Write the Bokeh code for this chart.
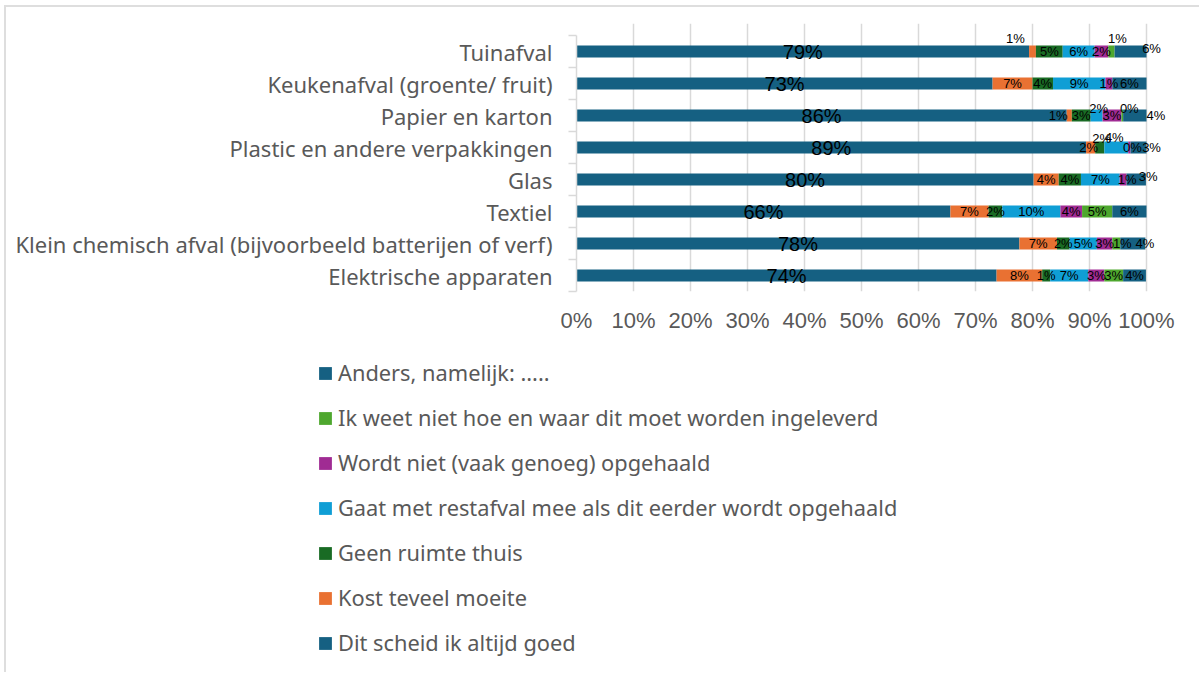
import numpy as np
from bokeh.plotting import figure
from bokeh.models import (Range1d, FixedTicker, ColumnDataSource, LabelSet,
                          Legend, LegendItem)
from bokeh.core.properties import value
from bokeh.embed import file_html
from bokeh.resources import INLINE

# ---------------- data ----------------
categories = [
    "Tuinafval",
    "Keukenafval (groente/ fruit)",
    "Papier en karton",
    "Plastic en andere verpakkingen",
    "Glas",
    "Textiel",
    "Klein chemisch afval (bijvoorbeeld batterijen of verf)",
    "Elektrische apparaten",
]
series_names = [
    "Dit scheid ik altijd goed",
    "Kost teveel moeite",
    "Geen ruimte thuis",
    "Gaat met restafval mee als dit eerder wordt opgehaald",
    "Wordt niet (vaak genoeg) opgehaald",
    "Ik weet niet hoe en waar dit moet worden ingeleverd",
    "Anders, namelijk: .....",
]
altijd_goed    = [79.4, 73.0, 86.0, 89.4, 80.2, 65.6, 77.7, 73.7]
kost_moeite    = [1.2, 7.0, 0.9, 1.6, 4.4, 6.7, 6.6, 8.0]
geen_ruimte    = [4.7, 3.6, 3.3, 1.6, 3.9, 2.4, 2.2, 1.4]
restafval      = [5.6, 9.2, 2.1, 4.2, 6.8, 10.2, 4.8, 6.7]
niet_opgehaald = [2.4, 1.2, 3.3, 0.4, 1.2, 3.8, 2.7, 2.8]
weet_niet      = [1.1, 0.0, 0.3, 0.0, 0.0, 5.3, 1.4, 3.3]
anders         = [5.6, 6.0, 4.1, 2.8, 3.4, 6.0, 4.4, 4.0]
x_tick_values  = [0, 10, 20, 30, 40, 50, 60, 70, 80, 90, 100]
x_tick_labels  = ["0%", "10%", "20%", "30%", "40%", "50%", "60%", "70%", "80%", "90%", "100%"]

series_values = [altijd_goed, kost_moeite, geen_ruimte, restafval,
                 niet_opgehaald, weet_niet, anders]

# ---------------- style ----------------
colors = ["#156082", "#E97132", "#196B24", "#0F9ED5", "#A02B93", "#4EA72E", "#156082"]
GRAY_TEXT = "#595959"
GRID = "#d9d9d9"
UI_FONT = "Noto Sans"
LBL_FONT = "Liberation Sans"

# manual label nudges (pixels, dy positive = up) keyed by (row, series)
label_nudges = {
    (0, 1): (-17, 13), (0, 5): (6, 13), (0, 6): (21, 3),
    (2, 1): (-11, 0), (2, 3): (2, 7), (2, 5): (7, 7), (2, 6): (21, 0),
    (3, 1): (-2, 0), (3, 2): (2, 9), (3, 3): (-2, 10), (3, 4): (3, 0), (3, 6): (13, 0),
    (4, 4): (4, 0), (4, 6): (12, 3),
    (6, 5): (6, 0), (6, 6): (12, 0),
}

n = len(categories)
ycent = [n - i - 0.5 for i in range(n)]

W = 1195
ROW_PX = 32.0
PX_PER_PCT = 5.7
FRAME_L = 570           # canvas x of 0 %
FRAME_W = 600           # a little room right of 100 % for labels
TOP_PAD = 12            # room above the first bar for lifted labels
FRAME_T = 28 - TOP_PAD
FRAME_H = int(n * ROW_PX) + TOP_PAD
H1 = 333

p = figure(width=W, height=H1, output_backend="svg", toolbar_location=None,
           x_range=Range1d(0, FRAME_W / PX_PER_PCT),
           y_range=Range1d(0, n + TOP_PAD / ROW_PX),
           min_border_left=FRAME_L, min_border_top=FRAME_T,
           min_border_right=W - FRAME_L - FRAME_W,
           min_border_bottom=H1 - FRAME_T - FRAME_H)
p.outline_line_color = None
p.background_fill_color = "white"
p.border_fill_color = "white"
p.margin = (5, 0, 0, 4)
p.styles = {"border-top": "2px solid #dedede", "border-left": "2px solid #dedede"}

# stacked bars
vals = np.array(series_values, dtype=float)
lefts = np.vstack([np.zeros(n), np.cumsum(vals, axis=0)[:-1]])
renderers = []
for k, name in enumerate(series_names):
    src = ColumnDataSource(dict(y=ycent, left=lefts[k], right=lefts[k] + vals[k]))
    r = p.hbar(y="y", left="left", right="right", height=12 / ROW_PX, source=src,
               fill_color=colors[k], line_color=None)
    renderers.append(r)

# data labels
big = dict(x=[], y=[], t=[], dx=[], dy=[])
small = dict(x=[], y=[], t=[], dx=[], dy=[])
for k in range(len(series_names)):
    for i in range(n):
        v = vals[k][i]
        if v <= 0:
            continue
        d = big if k == 0 else small
        dx, dy = label_nudges.get((i, k), (0, 0))
        d["x"].append(lefts[k][i] + v / 2)
        d["y"].append(ycent[i])
        d["t"].append(f"{round(v):d}%")
        d["dx"].append(dx)
        d["dy"].append(dy)

p.add_layout(LabelSet(x="x", y="y", text="t", x_offset="dx", y_offset="dy",
                      source=ColumnDataSource(big), text_align="center",
                      text_baseline="middle", text_font=value(LBL_FONT),
                      text_font_size="20px", text_color="black"))
p.add_layout(LabelSet(x="x", y="y", text="t", x_offset="dx", y_offset="dy",
                      source=ColumnDataSource(small), text_align="center",
                      text_baseline="middle", text_font=value(LBL_FONT),
                      text_font_size="13px", text_color="black"))

# x axis
p.xaxis.ticker = FixedTicker(ticks=x_tick_values)
p.xaxis.major_label_overrides = dict(zip(x_tick_values, x_tick_labels))
p.xaxis.axis_line_color = None
p.xaxis.major_tick_line_color = None
p.xaxis.major_tick_out = 0
p.xaxis.major_tick_in = 0
p.xaxis.minor_tick_line_color = None
p.xaxis.major_label_standoff = 16
p.xaxis.major_label_text_font = LBL_FONT
p.xaxis.major_label_text_font_size = "22px"
p.xaxis.major_label_text_color = GRAY_TEXT

# y axis: labels at row centres, tick marks at row boundaries
p.yaxis.ticker = FixedTicker(ticks=ycent, minor_ticks=list(range(n + 1)))
p.yaxis.bounds = (0, n)
p.yaxis.major_label_overrides = {c: name for c, name in zip(ycent, categories)}
p.yaxis.axis_line_color = GRID
p.yaxis.axis_line_width = 1.5
p.yaxis.major_tick_line_color = None
p.yaxis.major_tick_out = 0
p.yaxis.major_tick_in = 0
p.yaxis.minor_tick_line_color = GRID
p.yaxis.minor_tick_line_width = 1.5
p.yaxis.minor_tick_out = 8
p.yaxis.minor_tick_in = 0
p.yaxis.major_label_standoff = 16
p.yaxis.major_label_text_font = UI_FONT
p.yaxis.major_label_text_font_size = "22px"
p.yaxis.major_label_text_color = GRAY_TEXT

p.xgrid.grid_line_color = GRID
p.xgrid.grid_line_width = 1.5
p.xgrid.bounds = (0, n)
p.ygrid.grid_line_color = None

# ---------------- legend panel (separate root, so no frame alignment) ----------------
H2 = 334
LEG_L = 311   # canvas x of the legend swatch box
LEG_T = 20    # canvas y of the first legend row
p2 = figure(width=W, height=H2, output_backend="svg", toolbar_location=None,
            x_axis_type=None, y_axis_type=None,
            x_range=Range1d(0, 1), y_range=Range1d(0, 1),
            min_border_left=LEG_L, min_border_right=0, min_border_top=LEG_T,
            min_border_bottom=0)
p2.outline_line_color = None
p2.xgrid.visible = False
p2.ygrid.visible = False
p2.margin = (0, 0, 0, 4)
p2.styles = {"border-left": "2px solid #dedede"}
# off-screen swatch renderers that only feed the legend
swatches = []
for k in range(len(series_names)):
    swatches.append(p2.hbar(y=[-10], left=[0], right=[0], height=1,
                            fill_color=colors[k], line_color=None))
items = [LegendItem(label=series_names[k], renderers=[swatches[k]])
         for k in reversed(range(len(series_names)))]
legend = Legend(items=items, location="top_left", orientation="vertical",
                glyph_width=16, glyph_height=16, label_height=24, spacing=16,
                label_standoff=5, padding=0, margin=0,
                border_line_color=None, background_fill_alpha=0,
                label_text_font=UI_FONT, label_text_font_size="21.8px",
                label_text_color=GRAY_TEXT)
p2.add_layout(legend, "center")

open("out.html", "w").write(file_html([p, p2], INLINE))
